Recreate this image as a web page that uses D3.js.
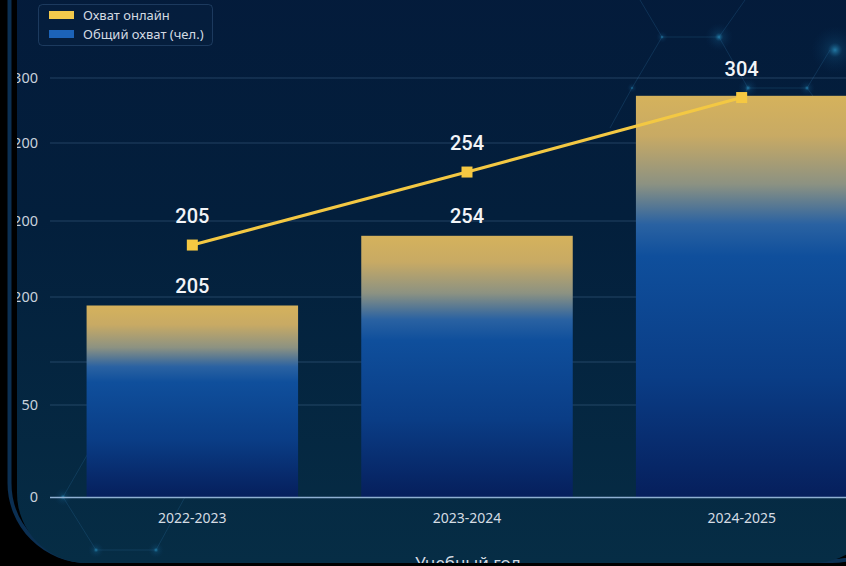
<!DOCTYPE html>
<html>
<head>
<meta charset="utf-8">
<script src="https://cdn.jsdelivr.net/npm/d3@7"></script>
<style>
  html, body { margin: 0; padding: 0; background: #000; }
  svg { display: block; }
</style>
</head>
<body>
<svg id="chart" width="846" height="566"></svg>
<script>
// ---- data ----
const categories = ["2022-2023", "2023-2024", "2024-2025"];
const totalReach = [205, 254, 304];   // bars: Общий охват (чел.)
const onlineReach = [205, 254, 304];  // line: Охват онлайн
const yTickValues = [0, 50, 100, 150, 200, 250, 300];
const yTickLabels = ["0", "50", "", "200", "200", "200", "300"];
const legendLabels = ["Охват онлайн", "Общий охват (чел.)"];
const xAxisTitle = "Учебный год";

// ---- layout ----
const W = 846, H = 566;
const baseY = 497;
const svg = d3.select("#chart");
const defs = svg.append("defs");

const pg = defs.append("linearGradient").attr("id", "panelBg").attr("x1", 0).attr("y1", 0).attr("x2", 0).attr("y2", 1);
pg.append("stop").attr("offset", "0%").attr("stop-color", "#04183a");
pg.append("stop").attr("offset", "55%").attr("stop-color", "#031f3c");
pg.append("stop").attr("offset", "100%").attr("stop-color", "#062d45");

const bg = defs.append("linearGradient").attr("id", "barGrad").attr("x1", 0).attr("y1", 0).attr("x2", 0).attr("y2", 1);
[["0%", "#d5b25c"], ["10%", "#c8aa64"], ["22%", "#8c9282"], ["32%", "#2a62a2"], ["40%", "#0f4f9c"], ["70%", "#0a3d86"], ["100%", "#061f5c"]]
  .forEach(([o, c]) => bg.append("stop").attr("offset", o).attr("stop-color", c));

const glow = defs.append("radialGradient").attr("id", "nodeGlow");
glow.append("stop").attr("offset", "0%").attr("stop-color", "#2fa0d0").attr("stop-opacity", 0.7);
glow.append("stop").attr("offset", "30%").attr("stop-color", "#1a6fa0").attr("stop-opacity", 0.2);
glow.append("stop").attr("offset", "100%").attr("stop-color", "#0a3a6a").attr("stop-opacity", 0);

svg.append("rect").attr("width", W).attr("height", H).attr("fill", "#000");
svg.append("rect").attr("x", 9.5).attr("y", -200).attr("width", 900).attr("height", 200 + 561)
  .attr("rx", 78).attr("fill", "none").attr("stroke", "#0b2f52").attr("stroke-width", 4);
const clip = defs.append("clipPath").attr("id", "panelClip");
clip.append("rect").attr("x", 17).attr("y", -200).attr("width", 866).attr("height", 200 + 563).attr("rx", 70);
svg.append("rect").attr("x", 17).attr("y", -200).attr("width", 866).attr("height", 200 + 563)
  .attr("rx", 70).attr("fill", "url(#panelBg)");

const g = svg.append("g").attr("clip-path", "url(#panelClip)");

// decorative network (background)
const deco = g.append("g").attr("stroke", "#2a6a9a").attr("stroke-opacity", 0.28).attr("stroke-width", 1).attr("fill", "none");
const decoLines = [
  [[640, 0], [662, 37]], [[662, 37], [719, 37]], [[719, 37], [748, 88]], [[748, 88], [807, 88]],
  [[719, 37], [745, 0]], [[662, 37], [632, 88]], [[632, 88], [610, 128]], [[807, 88], [830, 50]],
  [[748, 88], [730, 120]], [[807, 88], [846, 140]],
  [[63, 497], [96, 550]], [[96, 550], [156, 550]], [[156, 550], [185, 497]], [[63, 497], [90, 450]],
  [[185, 497], [200, 470]]
];
decoLines.forEach(l => deco.append("line").attr("x1", l[0][0]).attr("y1", l[0][1]).attr("x2", l[1][0]).attr("y2", l[1][1]));
[[662, 37, 6], [719, 37, 14], [748, 88, 10], [807, 88, 8], [632, 88, 5], [63, 497, 9], [96, 550, 8], [156, 550, 8], [835, 50, 24]]
  .forEach(n => g.append("circle").attr("cx", n[0]).attr("cy", n[1]).attr("r", n[2]).attr("fill", "url(#nodeGlow)"));

// ---- scales ----
const x = d3.scaleBand().domain(categories).range([55, 879]).paddingInner(0.23).paddingOuter(0.115);
const yGrid = d3.scaleLinear().domain(yTickValues).range([baseY, 405, 362, 297, 221, 143, 78]);
const yBar = d3.scaleLinear().domain([0, 200, 250, 300]).range([baseY, 312, 247, 107]);
const yLine = d3.scaleLinear().domain([200, 300]).range([252.5, 103.5]);
const cx = i => x(categories[i]) + x.bandwidth() / 2;

g.append("g").selectAll("line").data(yTickValues.slice(1)).join("line")
  .attr("x1", 50).attr("x2", W).attr("y1", d => yGrid(d)).attr("y2", d => yGrid(d))
  .attr("stroke", "#5d86b0").attr("stroke-opacity", 0.35).attr("stroke-width", 1);

g.append("g").selectAll("text").data(yTickValues).join("text")
  .attr("x", 38).attr("y", d => yGrid(d)).attr("dy", "0.35em").attr("text-anchor", "end")
  .attr("font-family", "'Noto Sans', 'Open Sans', sans-serif").attr("font-size", 14.5).attr("fill", "#c9d2dc")
  .text((d, i) => yTickLabels[i]);

g.append("g").selectAll("rect").data(totalReach).join("rect")
  .attr("x", (d, i) => x(categories[i])).attr("width", x.bandwidth())
  .attr("y", d => yBar(d)).attr("height", d => baseY - yBar(d))
  .attr("fill", "url(#barGrad)");

g.append("line").attr("x1", 50).attr("x2", W).attr("y1", baseY + 0.5).attr("y2", baseY + 0.5)
  .attr("stroke", "#8fb0d2").attr("stroke-width", 1.6);

g.append("g").selectAll("text").data(categories).join("text")
  .attr("x", d => x(d) + x.bandwidth() / 2).attr("y", 523).attr("text-anchor", "middle")
  .attr("font-family", "'Noto Sans', 'Open Sans', sans-serif").attr("font-size", 14).attr("fill", "#d5dce3")
  .text(d => d);

g.append("text").attr("x", 468).attr("y", 569).attr("text-anchor", "middle")
  .attr("font-family", "'Noto Sans', 'Open Sans', sans-serif").attr("font-size", 17).attr("fill", "#d5dce3")
  .text(xAxisTitle);

// bar value labels (skipped where the line's label already sits at the same spot)
const barLabelIdx = totalReach.map((d, i) => i).filter(i => Math.abs((yBar(totalReach[i]) - 13) - (yLine(onlineReach[i]) - 22)) > 18);
g.append("g").selectAll("text").data(barLabelIdx).join("text")
  .attr("x", i => cx(i)).attr("y", i => yBar(totalReach[i]) - 13)
  .attr("text-anchor", "middle").attr("font-family", "Roboto, sans-serif").attr("font-weight", 500)
  .attr("font-size", 20).attr("fill", "#f2f4f7").text(i => totalReach[i]);

const lineGen = d3.line().x((d, i) => cx(i)).y(d => yLine(d));
g.append("path").datum(onlineReach).attr("d", lineGen).attr("fill", "none")
  .attr("stroke", "#f3c843").attr("stroke-width", 3.2);
g.append("g").selectAll("rect").data(onlineReach).join("rect")
  .attr("x", (d, i) => cx(i) - 5.5).attr("y", d => yLine(d) - 5.5)
  .attr("width", 11).attr("height", 11).attr("fill", "#f5c842");
g.append("g").selectAll("text").data(onlineReach).join("text")
  .attr("x", (d, i) => cx(i)).attr("y", d => yLine(d) - 22)
  .attr("text-anchor", "middle").attr("font-family", "Roboto, sans-serif").attr("font-weight", 500)
  .attr("font-size", 20).attr("fill", "#f2f4f7").text(d => d);

const lg = g.append("g");
lg.append("rect").attr("x", 38.5).attr("y", 4.5).attr("width", 174).attr("height", 41).attr("rx", 4)
  .attr("fill", "#06203f").attr("fill-opacity", 0.6).attr("stroke", "#3a5f88").attr("stroke-opacity", 0.45);
const legendColors = ["#f2c94c", "#1c63b8"];
legendLabels.forEach((lab, i) => {
  lg.append("rect").attr("x", 49).attr("y", 11 + i * 19).attr("width", 25).attr("height", 8).attr("fill", legendColors[i]);
  lg.append("text").attr("x", 83).attr("y", 20 + i * 19).attr("font-family", "'Noto Sans', 'Open Sans', sans-serif")
    .attr("font-size", 13).attr("fill", "#d3dae2").text(lab);
});
</script>
</body>
</html>
